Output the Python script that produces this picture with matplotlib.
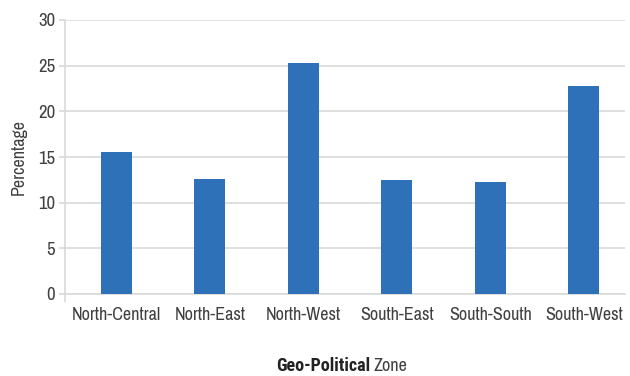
import matplotlib.pyplot as plt

plt.rcParams['font.family'] = ['Archivo Narrow', 'Roboto Condensed', 'DejaVu Sans']

zones = ['North-Central', 'North-East', 'North-West', 'South-East', 'South-South', 'South-West']
percentage = [15.5, 12.6, 25.3, 12.5, 12.3, 22.8]
y_ticks = [0, 5, 10, 15, 20, 25, 30]

bar_color = '#2E71B8'
grid_color = '#D9D9D9'
text_color = '#404040'

fig = plt.figure(figsize=(6.3, 3.76), dpi=100)
ax = fig.add_axes([65 / 630, 82 / 376, 560 / 630, 274 / 376])

x = range(len(zones))
ax.bar(x, percentage, width=0.33, color=bar_color, zorder=3)

x_left, x_right = -0.55, 5.44
ax.set_xlim(x_left, x_right)
ax.set_ylim(0, 30)
ax.set_yticks(y_ticks)
ax.set_xticks(list(x))
ax.set_xticklabels(zones)
# short tick below the origin, where the two axes meet
ax.set_xticks([x_left], minor=True)

ax.grid(axis='y', color=grid_color, linewidth=1.2, zorder=0)
for side in ['top', 'right']:
    ax.spines[side].set_visible(False)
ax.spines['left'].set_color(grid_color)
ax.spines['bottom'].set_color(grid_color)
ax.spines['left'].set_linewidth(1.2)
ax.spines['bottom'].set_linewidth(1.2)

ax.tick_params(axis='y', length=4, width=1.2, color=grid_color, labelsize=13.5, labelcolor=text_color, pad=3)
ax.tick_params(axis='x', which='major', length=0, labelsize=13, labelcolor=text_color, pad=9)
ax.tick_params(axis='x', which='minor', length=6, width=1.2, color=grid_color)

ax.set_ylabel('Percentage', fontsize=13, color=text_color, labelpad=8)

# axis title: bold first word, regular second
fig.text(370 / 630, 10 / 376, 'Geo-Political', fontsize=13, fontweight='bold',
         family=['Roboto Condensed', 'DejaVu Sans'], color='#222222', ha='right', va='center')
fig.text(374 / 630, 10 / 376, 'Zone', fontsize=13, color=text_color, ha='left', va='center')

fig.savefig('out.png', dpi=100)
